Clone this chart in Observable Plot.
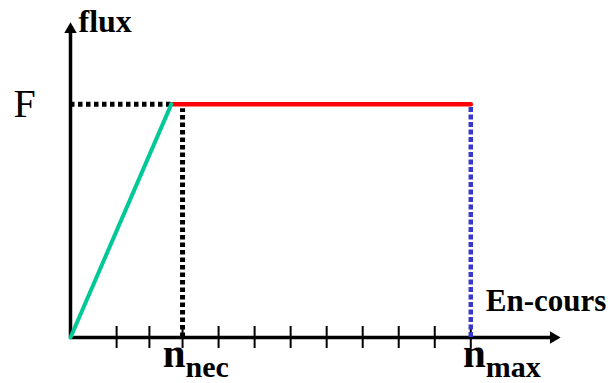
<!DOCTYPE html>
<html>
<head>
<meta charset="utf-8">
<script src="https://cdn.jsdelivr.net/npm/d3@7"></script>
<script src="https://cdn.jsdelivr.net/npm/@observablehq/plot@0.6"></script>
<style>
  html, body { margin: 0; padding: 0; background: #fff; }
</style>
</head>
<body>
<div id="chart"></div>
<script>
// Flux as a function of work in progress ("En-cours"):
// linear rise up to n_nec, then a plateau at F until n_max.
const F = 1;
const nNec = 3.11;       // minimum work in progress needed to reach F
const nMax = 11.11;      // maximum work in progress
const kneeX = 2.8;       // where the rising line meets the plateau
const xMax = 13.6;       // end of the horizontal axis arrow
const yMax = 1.35;       // end of the vertical axis arrow
const xTicks = [1.28, 2.19, 3.11, 4.11, 5.11, 6.11, 7.11, 8.11, 9.11, 10.11, 11.11];

const rise = [{x: 0, y: 0}, {x: kneeX, y: F}];
const plateau = [{x: kneeX, y: F}, {x: nMax, y: F}];

const serif = "'Liberation Serif', 'Times New Roman', serif";

const chart = Plot.plot({
  width: 608,
  height: 383,
  marginLeft: 70,
  marginRight: 48,
  marginTop: 22,
  marginBottom: 46,
  x: {domain: [0, xMax], axis: null},
  y: {domain: [0, yMax], axis: null},
  style: {fontFamily: serif, background: "#fff"},
  marks: [
    // axes
    Plot.ruleY([0], {x1: 0, x2: xMax - 0.2, stroke: "#000", strokeWidth: 3.5}),
    Plot.ruleX([0], {y1: 0, y2: yMax - 0.03, stroke: "#000", strokeWidth: 3.5}),
    Plot.dot([{x: xMax, y: 0}], {x: "x", y: "y", symbol: "triangle", r: 4.6, rotate: 90, dx: -7, fill: "#000", stroke: null}),
    Plot.dot([{x: 0, y: yMax}], {x: "x", y: "y", symbol: "triangle", r: 4.6, dy: 7, fill: "#000", stroke: null}),
    // tick marks across the horizontal axis
    Plot.ruleX(xTicks, {x: d => d, y1: 0, y2: 0, insetTop: -11, insetBottom: -11, stroke: "#000", strokeWidth: 2}),
    // reference lines
    Plot.ruleY([F], {x1: 0, x2: kneeX, stroke: "#000", strokeWidth: 5, strokeDasharray: "4.5,3.5"}),
    Plot.ruleX([nNec], {y1: 0, y2: F - 0.02, stroke: "#000", strokeWidth: 5, strokeDasharray: "4.5,3"}),
    Plot.ruleX([nMax], {y1: 0, y2: F, stroke: "#3838cc", strokeWidth: 4.5, strokeDasharray: "5,2.5"}),
    // flux curve
    Plot.line(plateau, {x: "x", y: "y", stroke: "#ff0000", strokeWidth: 4.5}),
    Plot.line(rise, {x: "x", y: "y", stroke: "#00c896", strokeWidth: 4}),
    // labels
    Plot.text(["flux"], {x: 0, y: yMax, dx: 8, textAnchor: "start", lineAnchor: "bottom", dy: 9, fontSize: 32, fontWeight: "bold"}),
    Plot.text(["F"], {x: 0, y: F, dx: -57, textAnchor: "start", lineAnchor: "bottom", dy: 13, fontSize: 40}),
    Plot.text(["En-cours"], {x: nMax, y: 0, dx: 15, dy: -27, textAnchor: "start", lineAnchor: "bottom", fontSize: 31, fontWeight: "bold"}),
    Plot.text(["n"], {x: nNec, y: 0, dx: 3, dy: 29, textAnchor: "end", lineAnchor: "bottom", fontSize: 41, fontWeight: "bold"}),
    Plot.text(["nec"], {x: nNec, y: 0, dx: 3, dy: 39, textAnchor: "start", lineAnchor: "bottom", fontSize: 30, fontWeight: "bold"}),
    Plot.text(["n"], {x: nMax, y: 0, dx: 15, dy: 29, textAnchor: "end", lineAnchor: "bottom", fontSize: 41, fontWeight: "bold"}),
    Plot.text(["max"], {x: nMax, y: 0, dx: 15, dy: 39, textAnchor: "start", lineAnchor: "bottom", fontSize: 30, fontWeight: "bold"})
  ]
});

document.getElementById("chart").appendChild(chart);
</script>
</body>
</html>
